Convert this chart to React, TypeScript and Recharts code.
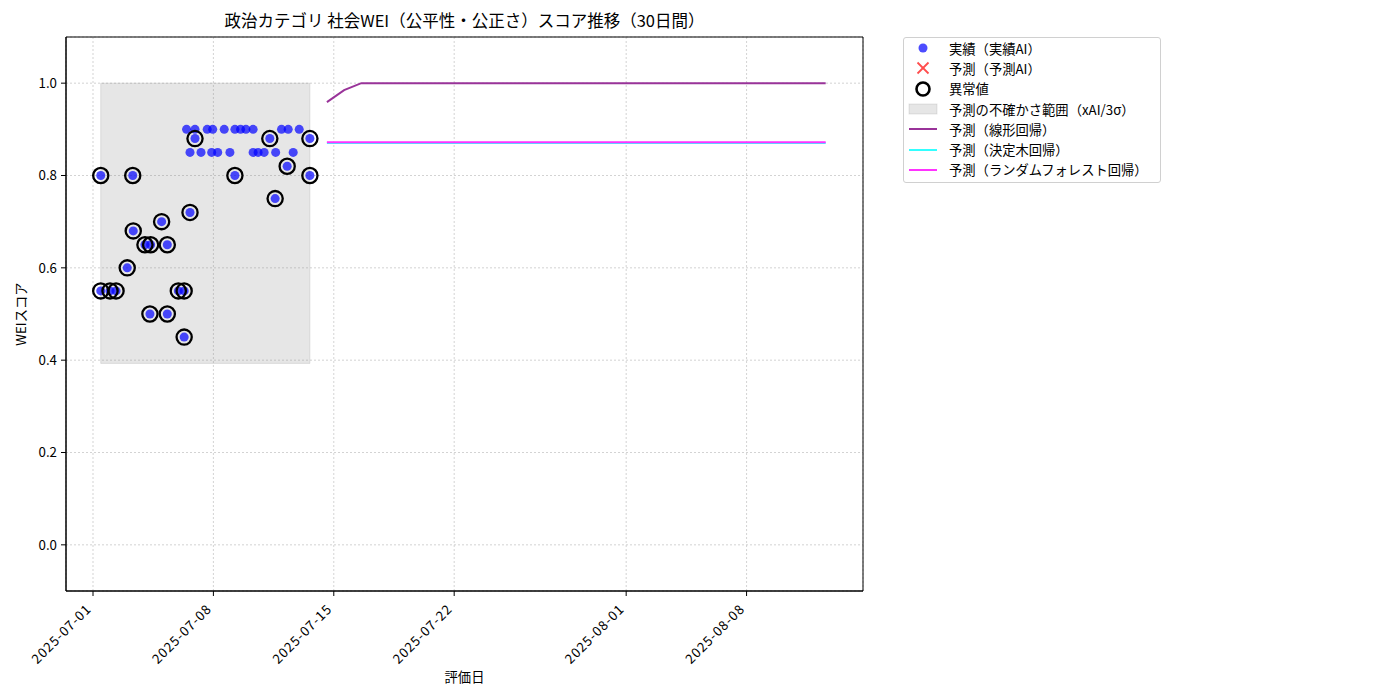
import React from "react"
import {
  ComposedChart,
  Scatter,
  Line,
  XAxis,
  YAxis,
  CartesianGrid,
  ReferenceArea,
  Legend,
  Label,
} from "recharts"

const FONT = '"Noto Sans CJK JP", "Noto Sans", sans-serif'

// x は 2025-07-01 からの経過日数
const X_TICKS = [0, 7, 14, 21, 31, 38]
const X_TICK_LABELS = ["2025-07-01", "2025-07-08", "2025-07-15", "2025-07-22", "2025-08-01", "2025-08-08"]
const Y_TICKS = [0, 0.2, 0.4, 0.6, 0.8, 1.0]

// 実績（実績AI）
const ACTUAL_DAYS = [
  0.45, 0.45, 0.99, 1.34, 1.99, 2.31, 2.34, 3.02, 3.35, 3.31, 3.99, 4.32, 4.32, 4.96, 5.3, 5.3,
  5.64, 5.93, 8.25, 10.28, 10.59, 11.29, 12.61, 12.61,
  5.44, 5.93, 6.64, 6.96, 7.63, 8.25, 8.58, 8.89, 9.31, 10.96, 11.35, 11.99,
  5.64, 6.28, 6.9, 7.25, 7.96, 9.31, 9.6, 9.95, 10.62, 11.64,
]
const ACTUAL_SCORES = [
  0.8, 0.55, 0.55, 0.55, 0.6, 0.8, 0.68, 0.65, 0.65, 0.5, 0.7, 0.65, 0.5, 0.55, 0.55, 0.45,
  0.72, 0.88, 0.8, 0.88, 0.75, 0.82, 0.88, 0.8,
  0.9, 0.9, 0.9, 0.9, 0.9, 0.9, 0.9, 0.9, 0.9, 0.9, 0.9, 0.9,
  0.85, 0.85, 0.85, 0.85, 0.85, 0.85, 0.85, 0.85, 0.85, 0.85,
]
// 異常値
const ANOMALY_DAYS = [
  0.45, 0.45, 0.99, 1.34, 1.99, 2.31, 2.34, 3.02, 3.35, 3.31, 3.99, 4.32, 4.32, 4.96, 5.3, 5.3,
  5.64, 5.93, 8.25, 10.28, 10.59, 11.29, 12.61, 12.61,
]
const ANOMALY_SCORES = [
  0.8, 0.55, 0.55, 0.55, 0.6, 0.8, 0.68, 0.65, 0.65, 0.5, 0.7, 0.65, 0.5, 0.55, 0.55, 0.45,
  0.72, 0.88, 0.8, 0.88, 0.75, 0.82, 0.88, 0.8,
]

// 予測の不確かさ範囲
const BAND_DAYS = [0.45, 12.61]
const BAND_SCORES = [0.393, 1.0]

// 予測（30日間）
const FORECAST_DAYS = [
  13.6, 14.6, 15.6, 16.6, 17.6, 18.6, 19.6, 20.6, 21.6, 22.6, 23.6, 24.6, 25.6, 26.6, 27.6,
  28.6, 29.6, 30.6, 31.6, 32.6, 33.6, 34.6, 35.6, 36.6, 37.6, 38.6, 39.6, 40.6, 41.6, 42.6,
]
const LINEAR = [
  0.959, 0.985, 1.0, 1.0, 1.0, 1.0, 1.0, 1.0, 1.0, 1.0, 1.0, 1.0, 1.0, 1.0, 1.0,
  1.0, 1.0, 1.0, 1.0, 1.0, 1.0, 1.0, 1.0, 1.0, 1.0, 1.0, 1.0, 1.0, 1.0, 1.0,
]
const TREE = [
  0.8705, 0.8705, 0.8705, 0.8705, 0.8705, 0.8705, 0.8705, 0.8705, 0.8705, 0.8705, 0.8705, 0.8705, 0.8705, 0.8705, 0.8705,
  0.8705, 0.8705, 0.8705, 0.8705, 0.8705, 0.8705, 0.8705, 0.8705, 0.8705, 0.8705, 0.8705, 0.8705, 0.8705, 0.8705, 0.8705,
]
const FOREST = [
  0.872, 0.872, 0.872, 0.872, 0.872, 0.872, 0.872, 0.872, 0.872, 0.872, 0.872, 0.872, 0.872, 0.872, 0.872,
  0.872, 0.872, 0.872, 0.872, 0.872, 0.872, 0.872, 0.872, 0.872, 0.872, 0.872, 0.872, 0.872, 0.872, 0.872,
]

const X_DOMAIN = [-1.57, 44.77]
const Y_DOMAIN = [-0.1, 1.1]

const zip = (xs: number[], ys: number[]) => xs.map((d, i) => ({ d, v: ys[i] }))

const actualData = zip(ACTUAL_DAYS, ACTUAL_SCORES)
const anomalyData = zip(ANOMALY_DAYS, ANOMALY_SCORES)
const linearData = zip(FORECAST_DAYS, LINEAR)
const treeData = zip(FORECAST_DAYS, TREE)
const forestData = zip(FORECAST_DAYS, FOREST)

const COLORS = {
  actual: "#0000ff",
  forecastAI: "#ff4d4d",
  linear: "#993399",
  tree: "#33ffff",
  forest: "#ff33ff",
}

function DateTick({ x, y, payload }: any) {
  const i = X_TICKS.indexOf(payload.value)
  return (
    <text
      transform={`translate(${x - 1},${y + 12}) rotate(-45)`}
      textAnchor="end"
      fontSize={13.3}
      letterSpacing={0.9}
      fontFamily={FONT}
      fill="#000"
    >
      {i >= 0 ? X_TICK_LABELS[i] : ""}
    </text>
  )
}

function AnomalyShape({ cx, cy }: any) {
  return <circle cx={cx} cy={cy} r={7.6} fill="none" stroke="#000" strokeWidth={2.3} />
}

const LEGEND_ITEMS = [
  { label: "実績（実績AI）", kind: "dot" },
  { label: "予測（予測AI）", kind: "x" },
  { label: "異常値", kind: "ring" },
  { label: "予測の不確かさ範囲（xAI/3σ）", kind: "band" },
  { label: "予測（線形回帰）", kind: "line", color: COLORS.linear },
  { label: "予測（決定木回帰）", kind: "line", color: COLORS.tree },
  { label: "予測（ランダムフォレスト回帰）", kind: "line", color: COLORS.forest },
]

function LegendMarker({ kind, color }: { kind: string; color?: string }) {
  return (
    <svg width={40} height={20} style={{ display: "block" }}>
      {kind === "dot" && <circle cx={19} cy={10} r={4.5} fill={COLORS.actual} fillOpacity={0.7} />}
      {kind === "x" && (
        <g stroke={COLORS.forecastAI} strokeWidth={1.8}>
          <line x1={13.5} y1={4.5} x2={24.5} y2={15.5} />
          <line x1={13.5} y1={15.5} x2={24.5} y2={4.5} />
        </g>
      )}
      {kind === "ring" && <circle cx={19} cy={10} r={6.5} fill="none" stroke="#000" strokeWidth={2.6} />}
      {kind === "band" && (
        <rect x={5} y={5} width={28} height={10} fill="#808080" fillOpacity={0.2} stroke="#808080" strokeOpacity={0.2} />
      )}
      {kind === "line" && <line x1={5} y1={10} x2={33} y2={10} stroke={color} strokeWidth={2} />}
    </svg>
  )
}

function LegendBox() {
  return (
    <div
      style={{
        width: 256,
        border: "1px solid #d0d0d0",
        borderRadius: 3,
        background: "#fff",
        fontFamily: FONT,
        fontSize: 13.3,
        color: "#000",
        paddingBottom: 2,
      }}
    >
      {LEGEND_ITEMS.map((it) => (
        <div key={it.label} style={{ display: "flex", alignItems: "center", height: 20.3 }}>
          <LegendMarker kind={it.kind} color={it.color} />
          <span style={{ marginLeft: 5, whiteSpace: "nowrap" }}>{it.label}</span>
        </div>
      ))}
    </div>
  )
}

export default function App() {
  return (
    <ComposedChart width={1384} height={684} margin={{ top: 29, right: 529, bottom: 6, left: 0 }}>
      <CartesianGrid stroke="#c8c8c8" strokeDasharray="2 2" strokeWidth={0.8} />
      <XAxis
        dataKey="d"
        type="number"
        domain={X_DOMAIN}
        allowDataOverflow
        ticks={X_TICKS}
        interval={0}
        height={95}
        tickSize={5}
        tickMargin={2}
        stroke="#000"
        tick={<DateTick />}
      >
        <Label
          content={({ viewBox }: any) => (
            <g fontFamily={FONT} fill="#000">
              <text
                x={viewBox.x + viewBox.width / 2}
                y={668}
                textAnchor="middle"
                dominantBaseline="central"
                fontSize={13.3}
              >
                評価日
              </text>
              <text
                x={viewBox.x + viewBox.width / 2}
                y={12}
                textAnchor="middle"
                dominantBaseline="central"
                fontSize={16.5}
              >
                政治カテゴリ 社会WEI（公平性・公正さ）スコア推移（30日間）
              </text>
            </g>
          )}
        />
      </XAxis>
      <YAxis
        dataKey="v"
        type="number"
        domain={Y_DOMAIN}
        allowDataOverflow
        ticks={Y_TICKS}
        interval={0}
        width={58}
        tickSize={5}
        tickMargin={4}
        stroke="#000"
        tick={{ fill: "#000", fontSize: 13.3, fontFamily: FONT }}
        tickFormatter={(v: number) => v.toFixed(1)}
      >
        <Label
          content={() => (
            <text
              transform="translate(12,306) rotate(-90)"
              textAnchor="middle"
              dominantBaseline="central"
              fontSize={13.3}
              fontFamily={FONT}
            >
              WEIスコア
            </text>
          )}
        />
      </YAxis>
      <ReferenceArea
        x1={BAND_DAYS[0]}
        x2={BAND_DAYS[1]}
        y1={BAND_SCORES[0]}
        y2={BAND_SCORES[1]}
        fill="#808080"
        fillOpacity={0.2}
        stroke="#808080"
        strokeOpacity={0.2}
        ifOverflow="visible"
      />
      {/* 枠線（上・右） */}
      <ReferenceArea
        x1={X_DOMAIN[0]}
        x2={X_DOMAIN[1]}
        y1={Y_DOMAIN[0]}
        y2={Y_DOMAIN[1]}
        fill="none"
        stroke="#000"
        strokeWidth={1}
        ifOverflow="visible"
      />
      <Line data={treeData} dataKey="v" name="予測（決定木回帰）" stroke={COLORS.tree} strokeWidth={2} dot={false} isAnimationActive={false} />
      <Line data={forestData} dataKey="v" name="予測（ランダムフォレスト回帰）" stroke={COLORS.forest} strokeWidth={2} dot={false} isAnimationActive={false} />
      <Line data={linearData} dataKey="v" name="予測（線形回帰）" stroke={COLORS.linear} strokeWidth={2} dot={false} isAnimationActive={false} />
      <Scatter data={actualData} dataKey="v" name="実績（実績AI）" fill={COLORS.actual} fillOpacity={0.7} isAnimationActive={false} />
      <Scatter data={anomalyData} dataKey="v" name="異常値" shape={<AnomalyShape />} isAnimationActive={false} />
      <Legend
        layout="vertical"
        align="center"
        verticalAlign="middle"
        wrapperStyle={{ left: 895, top: 29, width: 258 }}
        content={() => <LegendBox />}
      />
    </ComposedChart>
  )
}
